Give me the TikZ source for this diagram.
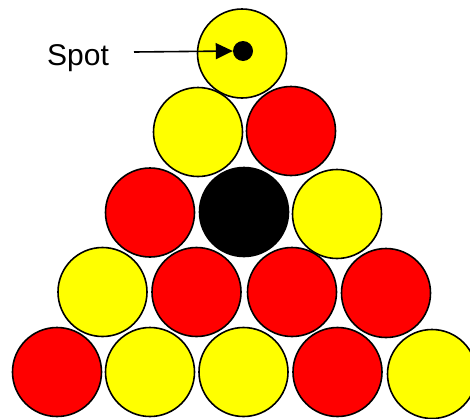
\documentclass[tikz,border=0pt]{standalone}
\usepackage{fontspec}
\setmainfont{Liberation Sans}
\usetikzlibrary{arrows.meta}
\definecolor{ballyellow}{RGB}{255,255,0}
\definecolor{ballred}{RGB}{255,0,0}
\tikzset{
  ball/.style={circle, draw=black, line width=1.6pt, minimum size=89pt, inner sep=0pt},
  yb/.style={ball, fill=ballyellow},
  rb/.style={ball, fill=ballred},
  bb/.style={ball, fill=black},
  spotdot/.style={circle, fill=black, minimum size=20pt, inner sep=0pt},
  pointer/.style={line width=1.6pt, -{Triangle[length=17pt,width=16pt]}}
}
\begin{document}
\begin{tikzpicture}[x=1pt,y=-1pt]
\useasboundingbox (0,0) rectangle (470,418);
% row 1
\node[yb] (b1) at (242,53.5) {};
\node[spotdot] (spot) at (243,51) {};
% row 2
\node[yb] (b21) at (198,132) {};
\node[rb] (b22) at (291,131) {};
% row 3
\node[rb] (b31) at (150,212.5) {};
\node[bb] (b32) at (244,212) {};
\node[yb] (b33) at (337,214) {};
% row 4
\node[yb] (b41) at (102.5,292) {};
\node[rb] (b42) at (196.5,292) {};
\node[rb] (b43) at (292,292) {};
\node[rb] (b44) at (386,293) {};
% row 5
\node[rb] (b51) at (57,372) {};
\node[yb] (b52) at (150,372) {};
\node[yb] (b53) at (243.5,372) {};
\node[rb] (b54) at (337.5,372) {};
\node[yb] (b55) at (432,374) {};
% label
\node[font=\fontsize{30}{36}\selectfont, anchor=base] (lbl) at (78,65) {Spot};
\coordinate (tail) at (134,52);
\draw[pointer] (tail) -- (spot.west);
\end{tikzpicture}
\end{document}
